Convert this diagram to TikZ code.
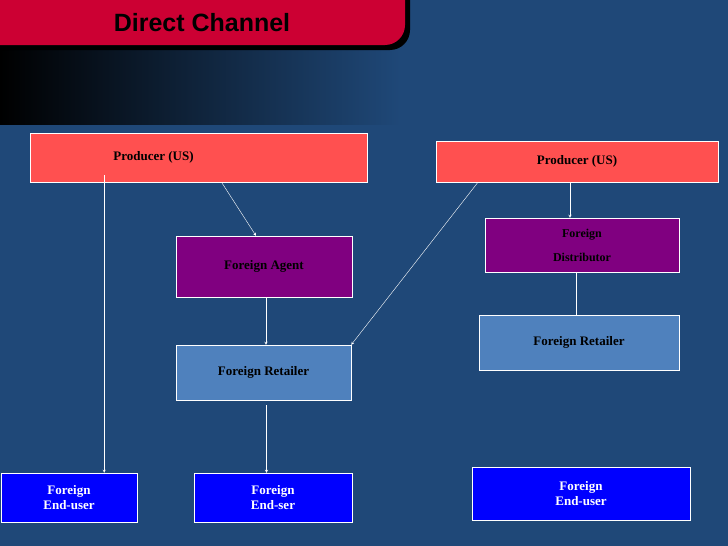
\documentclass[tikz,border=0pt]{standalone}
\usepackage{fontspec}
\setmainfont{Liberation Serif}
\newfontfamily\titlefont{Liberation Sans}
\definecolor{slidebg}{HTML}{1F4878}
\definecolor{titlered}{HTML}{CC0033}
\definecolor{prodred}{HTML}{FF5050}
\definecolor{agentpurple}{HTML}{800080}
\definecolor{retailblue}{HTML}{4F81BD}
\definecolor{userblue}{HTML}{0000FF}
\tikzset{
  box/.style={draw=white,thin,font=\bfseries\fontsize{13}{15}\selectfont,align=center,inner sep=0pt},
  link/.style={white,-stealth}
}
\begin{document}
\begin{tikzpicture}[x=1pt,y=-1pt]
  % background
  \fill[slidebg] (0,0) rectangle (728,546);
  \shade[left color=black,right color=slidebg] (0,0) rectangle (400,125);
  \fill[slidebg] (0,125) rectangle (400,546);
  \useasboundingbox (0,0) rectangle (728,546);

  % title
  \fill[black,rounded corners=20pt] (-20,-20) rectangle (410,50);
  \fill[titlered,rounded corners=20pt] (-20,-20) rectangle (405,45);
  \node[font=\titlefont\bfseries\fontsize{25}{28}\selectfont] (title) at (202,23) {Direct Channel};

  % left channel
  \node[box,fill=prodred,minimum width=337pt,minimum height=49pt] (prodA) at (198.5,157.5) {\hspace*{-90pt}Producer (US)};
  \node[box,fill=agentpurple,minimum width=176pt,minimum height=61pt] (agent) at (264,266.5) {Foreign Agent};
  \node[box,fill=retailblue,minimum width=175pt,minimum height=55pt] (retailA) at (263.5,372.5) {Foreign Retailer};
  \node[box,fill=userblue,minimum width=136pt,minimum height=49pt,text=white] (userA) at (69,497.5) {Foreign\\End-user};
  \node[box,fill=userblue,minimum width=158pt,minimum height=49pt,text=white] (userB) at (273,497.5) {Foreign\\End-ser};

  % right channel
  \node[box,fill=prodred,minimum width=282pt,minimum height=41pt] (prodB) at (577,161.5) {Producer (US)};
  \node[box,fill=agentpurple,minimum width=194pt,minimum height=54pt,font=\bfseries\fontsize{12}{24}\selectfont] (distr) at (582,245) {Foreign\\Distributor};
  \node[box,fill=retailblue,minimum width=200pt,minimum height=55pt] (retailB) at (579,342.5) {Foreign Retailer};
  \node[box,fill=userblue,minimum width=218pt,minimum height=53pt,text=white] (userC) at (581,493.5) {Foreign\\End-user};

  % connectors
  \draw[link] (prodA.south -| userA.north east) ++(-33,-7) coordinate (a1) -- (a1 |- userA.north);
  \draw[link] ([xshift=23pt]prodA.south) -- ([xshift=-8pt]agent.north);
  \draw[link] (agent.south) ++(2,0) coordinate (a2) -- (a2 |- retailA.north);
  \draw[link] ([xshift=-99pt]prodB.south) -- (retailA.north east);
  \draw[link] (retailA.south) ++(3,5) coordinate (a3) -- (a3 |- userB.north);
  \draw[link] ([xshift=-7pt]prodB.south) -- ([xshift=-12pt]distr.north);
  \draw[white] ([xshift=-6pt]distr.south) -- ([xshift=-3pt]retailB.north);
\end{tikzpicture}
\end{document}
